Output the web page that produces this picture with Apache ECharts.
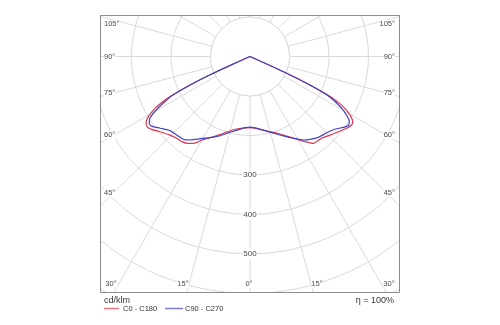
<!DOCTYPE html>
<html>
<head>
<meta charset="utf-8">
<script src="https://cdn.jsdelivr.net/npm/echarts@6/dist/echarts.min.js"></script>
<style>
  html, body { margin: 0; padding: 0; background: #ffffff; }
  #chart { width: 500px; height: 325px; }
</style>
</head>
<body>
<div id="chart"></div>
<script>
// Luminous intensity distribution, cd/klm.
// Each entry: [angle from nadir in degrees, intensity].
const c0Left = [
  [0, 179], [11.6, 188], [20.1, 209], [27, 232], [30, 244], [32.4, 260], [35.4, 270],
  [38.7, 276], [41.9, 278], [45.5, 284], [50.1, 297], [53.5, 310], [55.6, 315], [57.5, 312],
  [59.4, 299], [61.4, 274], [62.9, 242], [63.5, 225], [64.6, 168], [65.3, 120], [65.8, 60], [66.5, 0]
];
const c0Right = [
  [0, 180], [14.9, 197], [23, 216], [27.9, 234], [32.2, 253], [36.1, 272], [41.2, 275],
  [45.5, 284], [49.6, 294], [53.4, 305], [56, 310], [57.6, 308], [59.7, 293], [61.7, 268],
  [62.9, 242], [63.6, 220], [64.6, 168], [65.5, 93], [66.5, 0]
];
const c90Left = [
  [0, 179], [13.7, 196], [21.7, 217], [28.8, 236], [33, 250], [36.2, 262], [38.9, 269],
  [43, 272], [47.2, 276], [51.4, 291], [54.7, 305], [56.4, 306], [58.3, 298], [60.5, 270],
  [62.4, 238], [63.5, 218], [64.6, 165], [65.3, 115], [65.8, 58], [66.5, 0]
];
const c90Right = [
  [0, 179], [14.8, 198], [22.8, 218], [27.9, 234], [32.6, 251], [35.9, 259], [40.2, 268],
  [45.2, 274], [49.4, 283], [52.8, 297], [55.1, 304], [56.7, 301], [58.3, 290], [60.5, 267],
  [62.4, 238], [63.5, 218], [64.6, 165], [65.5, 92], [66.5, 0]
];

const seriesNames = ['C0 - C180', 'C90 - C270'];
const ringLabels = [300, 400, 500];
const sideAngleLabels = ['105°', '90°', '75°', '60°', '45°'];
const bottomAngleLabels = ['30°', '15°', '0°', '15°', '30°'];
const unitLabel = 'cd/klm';
const efficiencyLabel = 'η = 100%';

// Layout and styling
const CENTER = [250, 56.5];
const RADIUS_MAX = 700;
const PX_PER_UNIT = 0.395;
const FRAME = { x: 100, y: 15, w: 299, h: 277 };
const GRID = '#dadada';
const TEXT = '#4a4a4a';
const COLORS = ['#dc3a52', '#4343c4'];
const FONT = '"Liberation Sans", Arial, sans-serif';
const sideLabelY = [24, 56.5, 93, 135, 193];
const bottomLabelX = [111, 183, 249, 317, 389];

// Right half (C0 / C90) runs from the top down to nadir, then the left half back up.
function toPolar(left, right) {
  const pts = [];
  for (let i = right.length - 1; i >= 0; i--) {
    const a = right[i][0];
    pts.push([right[i][1], a === 0 ? 0 : 360 - a]);
  }
  for (let i = 1; i < left.length; i++) {
    pts.push([left[i][1], left[i][0]]);
  }
  return pts;
}

const chart = echarts.init(document.getElementById('chart'), null, { renderer: 'canvas' });

chart.setOption({
  animation: false,
  backgroundColor: '#ffffff',
  polar: { center: CENTER, radius: RADIUS_MAX * PX_PER_UNIT },
  angleAxis: {
    type: 'value', min: 0, max: 360, interval: 15, startAngle: 270, clockwise: true,
    axisLine: { show: false }, axisTick: { show: false }, axisLabel: { show: false },
    splitLine: { show: true, lineStyle: { color: GRID, width: 1 } }
  },
  radiusAxis: {
    type: 'value', min: 0, max: RADIUS_MAX, interval: 100,
    axisLine: { show: false }, axisTick: { show: false }, axisLabel: { show: false },
    splitLine: { show: true, lineStyle: { color: GRID, width: 1 } }
  },
  series: [
    {
      name: seriesNames[0], type: 'line', coordinateSystem: 'polar', showSymbol: false,
      smooth: 0.25, z: 3, lineStyle: { color: COLORS[0], width: 1.2 },
      data: toPolar(c0Left, c0Right)
    },
    {
      name: seriesNames[1], type: 'line', coordinateSystem: 'polar', showSymbol: false,
      smooth: 0.25, z: 4, lineStyle: { color: COLORS[1], width: 1.2 },
      data: toPolar(c90Left, c90Right)
    }
  ]
});

// Overlay: blank inner disc, frame clipping, labels and legend.
const origin = chart.convertToPixel({ seriesIndex: 0 }, [0, 0]);
const ring100 = chart.convertToPixel({ seriesIndex: 0 }, [100, 0]);
const innerR = Math.hypot(ring100[0] - origin[0], ring100[1] - origin[1]);

const elements = [
  { type: 'circle', z: 1, shape: { cx: origin[0], cy: origin[1], r: innerR },
    style: { fill: '#ffffff', stroke: GRID, lineWidth: 1 } },
  // white margins around the plot frame
  { type: 'rect', z: 10, shape: { x: 0, y: 0, width: 500, height: FRAME.y }, style: { fill: '#fff' } },
  { type: 'rect', z: 10, shape: { x: 0, y: 0, width: FRAME.x, height: 325 }, style: { fill: '#fff' } },
  { type: 'rect', z: 10, shape: { x: FRAME.x + FRAME.w, y: 0, width: 500, height: 325 }, style: { fill: '#fff' } },
  { type: 'rect', z: 10, shape: { x: 0, y: FRAME.y + FRAME.h, width: 500, height: 100 }, style: { fill: '#fff' } },
  { type: 'rect', z: 11, shape: { x: FRAME.x + 0.5, y: FRAME.y + 0.5, width: FRAME.w, height: FRAME.h },
    style: { fill: 'none', stroke: '#8c8c8c', lineWidth: 1 } }
];

ringLabels.forEach(function (v) {
  const p = chart.convertToPixel({ seriesIndex: 0 }, [v, 0]);
  elements.push({ type: 'text', z: 12, style: {
    text: String(v), x: p[0], y: p[1], align: 'center', verticalAlign: 'middle',
    font: '8px ' + FONT, fill: TEXT, backgroundColor: '#ffffff', padding: [1, 1]
  } });
});

sideAngleLabels.forEach(function (t, i) {
  elements.push({ type: 'text', z: 12, style: {
    text: t, x: FRAME.x + 4, y: sideLabelY[i], align: 'left', verticalAlign: 'middle',
    font: '7.5px ' + FONT, fill: TEXT, backgroundColor: '#ffffff'
  } });
  elements.push({ type: 'text', z: 12, style: {
    text: t, x: FRAME.x + FRAME.w - 4, y: sideLabelY[i], align: 'right', verticalAlign: 'middle',
    font: '7.5px ' + FONT, fill: TEXT, backgroundColor: '#ffffff'
  } });
});

bottomAngleLabels.forEach(function (t, i) {
  elements.push({ type: 'text', z: 12, style: {
    text: t, x: bottomLabelX[i], y: 284, align: 'center', verticalAlign: 'middle',
    font: '7.5px ' + FONT, fill: TEXT, backgroundColor: '#ffffff'
  } });
});

// Unit, efficiency and legend below the frame
elements.push({ type: 'text', z: 12, style: {
  text: unitLabel, x: 104, y: 300.5, align: 'left', verticalAlign: 'middle', font: '9px ' + FONT, fill: '#333'
} });
elements.push({ type: 'text', z: 12, style: {
  text: efficiencyLabel, x: 394, y: 300.5, align: 'right', verticalAlign: 'middle', font: '9px ' + FONT, fill: '#333'
} });
const legendItems = [{ x0: 104, x1: 119, tx: 123 }, { x0: 165, x1: 183, tx: 185 }];
legendItems.forEach(function (it, i) {
  elements.push({ type: 'line', z: 12, shape: { x1: it.x0, y1: 308.5, x2: it.x1, y2: 308.5 },
    style: { stroke: COLORS[i], lineWidth: 1.5, opacity: 0.7 } });
  elements.push({ type: 'text', z: 12, style: {
    text: seriesNames[i], x: it.tx, y: 308.5, align: 'left', verticalAlign: 'middle',
    font: '7.5px ' + FONT, fill: '#333'
  } });
});

chart.setOption({ graphic: { elements: elements } });
</script>
</body>
</html>
